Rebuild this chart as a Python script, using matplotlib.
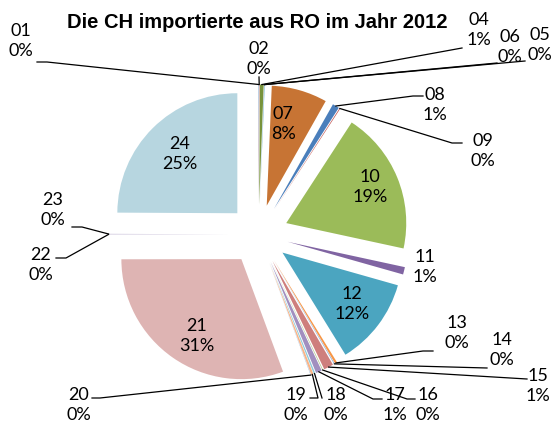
import numpy as np
import matplotlib
matplotlib.use("Agg")
import matplotlib.pyplot as plt

# Kapitel (HS-Codes) und Anteile in %
codes = ['01', '02', '04', '05', '06', '07', '08', '09', '10', '11', '12',
         '13', '14', '15', '16', '17', '18', '19', '20', '21', '22', '23', '24']
values = [0.05, 0.05, 0.5, 0.02, 0.05, 7.5, 0.9, 0.1, 19.2, 1.0, 11.8,
          0.3, 0.1, 1.3, 0.1, 0.8, 0.2, 0.3, 0.05, 30.6, 0.05, 0.05, 24.9]
pct_text = ['0%', '0%', '1%', '0%', '0%', '8%', '1%', '0%', '19%', '1%', '12%',
            '0%', '0%', '1%', '0%', '1%', '0%', '0%', '0%', '31%', '0%', '0%', '25%']
colors = ['#4F81BD', '#C0504D', '#77933C', '#8064A2', '#4BACC6', '#C77434',
          '#4A7EBB', '#C0504D', '#9BBB59', '#8064A2', '#4BA5C0', '#F79646',
          '#8EA9D3', '#CE7F7D', '#B5CA8D', '#A18FBF', '#8DCADB', '#F9B487',
          '#95B3D7', '#DEB4B3', '#C9C0D9', '#C9C0D9', '#B7D6E0']

# Pixelpositionen der Beschriftungen (Mitte) und Endpunkte der Führungslinien
inside_lbl = {'07': (283, 124), '10': (370, 187), '12': (352, 304),
              '21': (197, 336), '24': (180, 154)}
outside_lbl = {'01': (21, 41), '02': (259, 59), '04': (479, 30), '05': (540, 45),
               '06': (510, 47), '08': (435, 105), '09': (483, 151), '11': (425, 267),
               '13': (457, 333), '14': (502, 350), '15': (538, 386), '16': (428, 405),
               '17': (395, 405), '18': (336, 405), '19': (296, 405), '20': (79, 405),
               '22': (41, 265), '23': (53, 210)}
leaders = {'01': [(47, 62), (37, 62)], '02': [(259, 77)], '04': [(462, 48)],
           '05': [(525, 61)], '06': [(497, 63)], '08': [(413, 96), (423, 96)],
           '09': [(452, 143), (462, 143)], '13': [(423, 351), (433, 351)],
           '14': [(487, 368)], '15': [(527, 379)], '16': [(407, 399), (415, 399)],
           '17': [(373, 399), (382, 399)], '18': [(322, 398)],
           '19': [(318, 398), (310, 398)], '20': [(100, 398), (92, 398)],
           '22': [(66, 258), (56, 258)], '23': [(82, 227), (72, 227)]}

CX, CY, S = 258.5, 234.5, 120.0


def px(x, y):
    return (x - CX) / S, (CY - y) / S


fig = plt.figure(figsize=(5.56, 4.26), dpi=100)
ax = fig.add_axes([0, 0, 1, 1])
wedges, _ = ax.pie(values, colors=colors, explode=[0.25] * len(values),
                   startangle=90, counterclock=False, radius=1,
                   wedgeprops=dict(linewidth=0))
ax.set_xlim(px(0, 0)[0], px(556, 0)[0])
ax.set_ylim(px(0, 426)[1], px(0, 0)[1])
ax.axis('off')

lblfont = dict(family=['Lato', 'DejaVu Sans'], fontsize=13, color='black',
               ha='center', va='center', linespacing=1.3)

for code, w, p in zip(codes, wedges, pct_text):
    txt = code + '\n' + p
    if code in inside_lbl:
        ax.text(*px(*inside_lbl[code]), txt, **lblfont)
        continue
    ax.text(*px(*outside_lbl[code]), txt, zorder=3, **lblfont)
    if code in leaders:
        mid = np.deg2rad((w.theta1 + w.theta2) / 2)
        ax_, ay_ = w.center[0] + w.r * np.cos(mid), w.center[1] + w.r * np.sin(mid)
        pts = [(ax_, ay_)] + [px(*q) for q in leaders[code]]
        xs, ys = zip(*pts)
        ax.plot(xs, ys, color='black', lw=0.9, zorder=4)

ax.text(*px(257, 22), 'Die CH importierte aus RO im Jahr 2012',
        family=['Liberation Sans', 'DejaVu Sans'], fontweight='bold', fontsize=14.5,
        ha='center', va='center', zorder=5,
        bbox=dict(facecolor='white', edgecolor='none', pad=1.5))

fig.savefig('out.png', dpi=100)
